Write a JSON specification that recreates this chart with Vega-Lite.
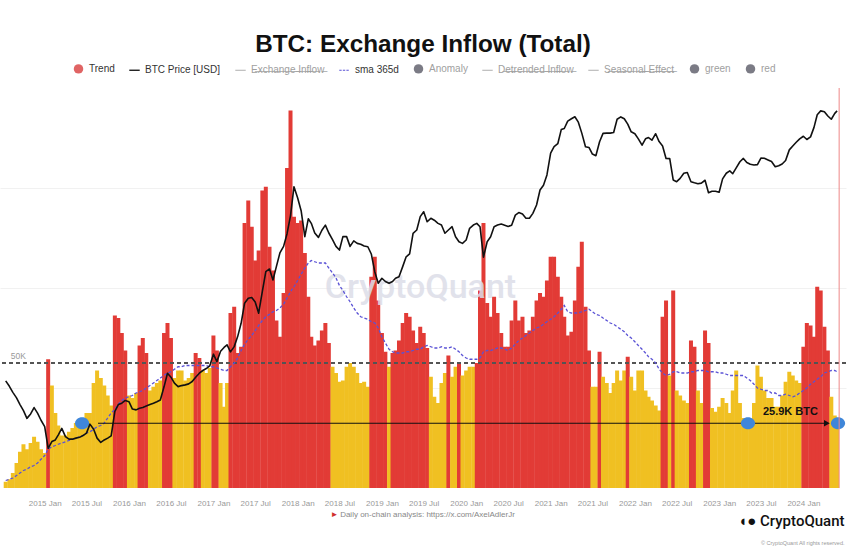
{
  "$schema": "https://vega.github.io/schema/vega-lite/v6.json",
  "width": 846,
  "height": 400,
  "autosize": {"type": "none"},
  "padding": {"left": 0, "top": 88, "right": 4, "bottom": 62},
  "background": "white",
  "config": {"view": {"stroke": null}, "font": "Liberation Sans"},
  "title": {"text": "BTC: Exchange Inflow (Total)", "fontSize": 24.3, "fontWeight": "bold", "color": "#111111", "anchor": "middle", "frame": "group", "offset": 6, "font": "Liberation Sans"},
  "datasets": {
    "main": [
      {"d":"2014-07-16","v":2.5,"c":"y","p":600,"s":3},
      {"d":"2014-08-01","v":3.5,"c":"y","p":545,"s":3.5},
      {"d":"2014-08-16","v":6,"c":"y","p":490,"s":4},
      {"d":"2014-09-01","v":10,"c":"y","p":445,"s":5},
      {"d":"2014-09-16","v":14.5,"c":"y","p":395,"s":6},
      {"d":"2014-10-01","v":17.5,"c":"y","p":355,"s":7},
      {"d":"2014-10-16","v":15.5,"c":"y","p":310,"s":7.5},
      {"d":"2014-11-01","v":18,"c":"y","p":335,"s":8.5},
      {"d":"2014-11-16","v":20.5,"c":"y","p":375,"s":9},
      {"d":"2014-12-01","v":18.5,"c":"y","p":340,"s":10},
      {"d":"2014-12-16","v":15.5,"c":"y","p":300,"s":11.5},
      {"d":"2015-01-01","v":14,"c":"y","p":268,"s":13},
      {"d":"2015-01-16","v":51.5,"c":"r","p":183,"s":15.5},
      {"d":"2015-02-01","v":41,"c":"y","p":206,"s":16.5},
      {"d":"2015-02-16","v":30,"c":"y","p":212,"s":17},
      {"d":"2015-03-01","v":25,"c":"y","p":232,"s":17.5},
      {"d":"2015-03-16","v":21,"c":"y","p":260,"s":18},
      {"d":"2015-04-01","v":21,"c":"y","p":225,"s":18.5},
      {"d":"2015-04-16","v":22.5,"c":"y","p":215,"s":19},
      {"d":"2015-05-01","v":24,"c":"y","p":215,"s":19.5},
      {"d":"2015-05-16","v":26,"c":"y","p":219,"s":20},
      {"d":"2015-06-01","v":27,"c":"y","p":222,"s":20.5},
      {"d":"2015-06-16","v":28,"c":"y","p":229,"s":21},
      {"d":"2015-07-01","v":30,"c":"y","p":239,"s":22},
      {"d":"2015-07-16","v":30,"c":"y","p":280,"s":22.5},
      {"d":"2015-08-01","v":42,"c":"y","p":256,"s":23.5},
      {"d":"2015-08-16","v":47,"c":"y","p":219,"s":24.5},
      {"d":"2015-09-01","v":44,"c":"y","p":203,"s":25},
      {"d":"2015-09-16","v":41,"c":"y","p":212,"s":26},
      {"d":"2015-10-01","v":37,"c":"y","p":219,"s":28},
      {"d":"2015-10-16","v":33,"c":"y","p":228,"s":30},
      {"d":"2015-11-01","v":69,"c":"r","p":350,"s":31.5},
      {"d":"2015-11-16","v":68,"c":"r","p":395,"s":33.5},
      {"d":"2015-12-01","v":62,"c":"r","p":405,"s":35},
      {"d":"2015-12-16","v":55,"c":"r","p":425,"s":36},
      {"d":"2016-01-01","v":37,"c":"y","p":416,"s":36.5},
      {"d":"2016-01-16","v":36,"c":"y","p":365,"s":37},
      {"d":"2016-02-01","v":38,"c":"y","p":360,"s":38},
      {"d":"2016-02-16","v":57,"c":"r","p":370,"s":38.5},
      {"d":"2016-03-01","v":60,"c":"r","p":375,"s":39},
      {"d":"2016-03-16","v":54,"c":"r","p":385,"s":40},
      {"d":"2016-04-01","v":39,"c":"y","p":395,"s":41},
      {"d":"2016-04-16","v":40.5,"c":"y","p":405,"s":42},
      {"d":"2016-05-01","v":42,"c":"y","p":416,"s":43},
      {"d":"2016-05-16","v":43,"c":"y","p":429,"s":44},
      {"d":"2016-06-01","v":62,"c":"r","p":540,"s":45},
      {"d":"2016-06-16","v":66,"c":"r","p":686,"s":46},
      {"d":"2016-07-01","v":60,"c":"r","p":640,"s":46.5},
      {"d":"2016-07-16","v":44,"c":"y","p":576,"s":47.5},
      {"d":"2016-08-01","v":47,"c":"y","p":542,"s":48.5},
      {"d":"2016-08-16","v":47,"c":"y","p":552,"s":48.5},
      {"d":"2016-09-01","v":43,"c":"y","p":559,"s":49},
      {"d":"2016-09-16","v":44,"c":"y","p":569,"s":49},
      {"d":"2016-10-01","v":46,"c":"y","p":593,"s":49},
      {"d":"2016-10-16","v":54,"c":"r","p":640,"s":49},
      {"d":"2016-11-01","v":52,"c":"r","p":686,"s":49},
      {"d":"2016-11-16","v":47,"c":"y","p":720,"s":49},
      {"d":"2016-12-01","v":46,"c":"y","p":745,"s":49},
      {"d":"2016-12-16","v":48,"c":"y","p":780,"s":48.5},
      {"d":"2017-01-01","v":61,"c":"r","p":960,"s":48.5},
      {"d":"2017-01-16","v":55,"c":"r","p":842,"s":48},
      {"d":"2017-02-01","v":42,"c":"y","p":1010,"s":47.5},
      {"d":"2017-02-16","v":32.5,"c":"y","p":1080,"s":47},
      {"d":"2017-03-01","v":42,"c":"y","p":1130,"s":47},
      {"d":"2017-03-16","v":70,"c":"r","p":1000,"s":48.5},
      {"d":"2017-04-01","v":72.5,"c":"r","p":1096,"s":50},
      {"d":"2017-04-16","v":54,"c":"r","p":1308,"s":52},
      {"d":"2017-05-01","v":56.5,"c":"r","p":1652,"s":55},
      {"d":"2017-05-16","v":106,"c":"r","p":2354,"s":57.5},
      {"d":"2017-06-01","v":115,"c":"r","p":2570,"s":59.5},
      {"d":"2017-06-16","v":104.5,"c":"r","p":2600,"s":61},
      {"d":"2017-07-01","v":91,"c":"r","p":2400,"s":63},
      {"d":"2017-07-16","v":95,"c":"r","p":1973,"s":65},
      {"d":"2017-08-01","v":119,"c":"r","p":2900,"s":67},
      {"d":"2017-08-16","v":120.5,"c":"r","p":4100,"s":68.5},
      {"d":"2017-09-01","v":96.5,"c":"r","p":4300,"s":69.5},
      {"d":"2017-09-16","v":87,"c":"r","p":3540,"s":70.5},
      {"d":"2017-10-01","v":67,"c":"r","p":4500,"s":71},
      {"d":"2017-10-16","v":60.5,"c":"r","p":5700,"s":72},
      {"d":"2017-11-01","v":78,"c":"r","p":6400,"s":73.5},
      {"d":"2017-11-16","v":128,"c":"r","p":8000,"s":76},
      {"d":"2017-12-01","v":151,"c":"r","p":11000,"s":78.5},
      {"d":"2017-12-16","v":108.5,"c":"r","p":18300,"s":80.5},
      {"d":"2018-01-01","v":106,"c":"r","p":15000,"s":83},
      {"d":"2018-01-16","v":107,"c":"r","p":12000,"s":85.5},
      {"d":"2018-02-01","v":94,"c":"r","p":7600,"s":88},
      {"d":"2018-02-16","v":76.5,"c":"r","p":10400,"s":90},
      {"d":"2018-03-01","v":60.5,"c":"r","p":9600,"s":91},
      {"d":"2018-03-16","v":57,"c":"r","p":8100,"s":90.5},
      {"d":"2018-04-01","v":59,"c":"r","p":7500,"s":90},
      {"d":"2018-04-16","v":63,"c":"r","p":8500,"s":90},
      {"d":"2018-05-01","v":66,"c":"r","p":9300,"s":90},
      {"d":"2018-05-16","v":58,"c":"r","p":8100,"s":88},
      {"d":"2018-06-01","v":48.5,"c":"y","p":7200,"s":86},
      {"d":"2018-06-16","v":46,"c":"y","p":6400,"s":84},
      {"d":"2018-07-01","v":42.5,"c":"y","p":6000,"s":81},
      {"d":"2018-07-16","v":43,"c":"y","p":7600,"s":79},
      {"d":"2018-08-01","v":48.5,"c":"y","p":7600,"s":76.5},
      {"d":"2018-08-16","v":50,"c":"y","p":6400,"s":74.5},
      {"d":"2018-09-01","v":48.5,"c":"y","p":7050,"s":72},
      {"d":"2018-09-16","v":46,"c":"y","p":6750,"s":70},
      {"d":"2018-10-01","v":42,"c":"y","p":6650,"s":68.5},
      {"d":"2018-10-16","v":42.5,"c":"y","p":6450,"s":68},
      {"d":"2018-11-01","v":40.5,"c":"y","p":6360,"s":67.5},
      {"d":"2018-11-16","v":84.5,"c":"r","p":5600,"s":66.5},
      {"d":"2018-12-01","v":92.5,"c":"r","p":4100,"s":66},
      {"d":"2018-12-16","v":75,"c":"r","p":3350,"s":64},
      {"d":"2019-01-01","v":62,"c":"r","p":3650,"s":60.5},
      {"d":"2019-01-16","v":54.5,"c":"r","p":3450,"s":58},
      {"d":"2019-02-01","v":48.5,"c":"y","p":3350,"s":55.5},
      {"d":"2019-02-16","v":54,"c":"r","p":3450,"s":54.5},
      {"d":"2019-03-01","v":55,"c":"r","p":3650,"s":54},
      {"d":"2019-03-16","v":59,"c":"r","p":3750,"s":54},
      {"d":"2019-04-01","v":66,"c":"r","p":4480,"s":54},
      {"d":"2019-04-16","v":70,"c":"r","p":5330,"s":54.5},
      {"d":"2019-05-01","v":68.5,"c":"r","p":5600,"s":54.5},
      {"d":"2019-05-16","v":63,"c":"r","p":8060,"s":55},
      {"d":"2019-06-01","v":58,"c":"r","p":8540,"s":55.5},
      {"d":"2019-06-16","v":64.5,"c":"r","p":10800,"s":55.5},
      {"d":"2019-07-01","v":62,"c":"r","p":11770,"s":56.5},
      {"d":"2019-07-16","v":56,"c":"r","p":9880,"s":57},
      {"d":"2019-08-01","v":44.5,"c":"y","p":10490,"s":56.5},
      {"d":"2019-08-16","v":36.5,"c":"y","p":10150,"s":56},
      {"d":"2019-09-01","v":34,"c":"y","p":9600,"s":56},
      {"d":"2019-09-16","v":42,"c":"y","p":9320,"s":56.5},
      {"d":"2019-10-01","v":46,"c":"y","p":8060,"s":56},
      {"d":"2019-10-16","v":53,"c":"r","p":8540,"s":56},
      {"d":"2019-11-01","v":44.5,"c":"y","p":9050,"s":56.5},
      {"d":"2019-11-16","v":48.5,"c":"y","p":7590,"s":55.5},
      {"d":"2019-12-01","v":50,"c":"r","p":6950,"s":54.5},
      {"d":"2019-12-16","v":45,"c":"y","p":6750,"s":53},
      {"d":"2020-01-01","v":47,"c":"y","p":7160,"s":52},
      {"d":"2020-01-16","v":48.5,"c":"y","p":8800,"s":51.5},
      {"d":"2020-02-01","v":48.5,"c":"y","p":9320,"s":51.5},
      {"d":"2020-02-16","v":50,"c":"r","p":9600,"s":51.5},
      {"d":"2020-03-01","v":79,"c":"r","p":9050,"s":52},
      {"d":"2020-03-16","v":106,"c":"r","p":5300,"s":54.5},
      {"d":"2020-04-01","v":74,"c":"r","p":6950,"s":55},
      {"d":"2020-04-16","v":68.5,"c":"r","p":7590,"s":55},
      {"d":"2020-05-01","v":76.5,"c":"r","p":9050,"s":55.5},
      {"d":"2020-05-16","v":70,"c":"r","p":9320,"s":56},
      {"d":"2020-06-01","v":62,"c":"r","p":9500,"s":56},
      {"d":"2020-06-16","v":56.5,"c":"r","p":9300,"s":55.5},
      {"d":"2020-07-01","v":56.5,"c":"r","p":9100,"s":55},
      {"d":"2020-07-16","v":67,"c":"r","p":9300,"s":56},
      {"d":"2020-08-01","v":75,"c":"r","p":11100,"s":57.5},
      {"d":"2020-08-16","v":67,"c":"r","p":11600,"s":59},
      {"d":"2020-09-01","v":68.5,"c":"r","p":11300,"s":60},
      {"d":"2020-09-16","v":62,"c":"r","p":10500,"s":61},
      {"d":"2020-10-01","v":63,"c":"r","p":10500,"s":62},
      {"d":"2020-10-16","v":68.5,"c":"r","p":11450,"s":63},
      {"d":"2020-11-01","v":75,"c":"r","p":13250,"s":64},
      {"d":"2020-11-16","v":78,"c":"r","p":17260,"s":64.5},
      {"d":"2020-12-01","v":76.5,"c":"r","p":18800,"s":65.5},
      {"d":"2020-12-16","v":83,"c":"r","p":22500,"s":66.5},
      {"d":"2021-01-01","v":92.5,"c":"r","p":33000,"s":67.5},
      {"d":"2021-01-16","v":92.5,"c":"r","p":37000,"s":68.5},
      {"d":"2021-02-01","v":84.5,"c":"r","p":39000,"s":70},
      {"d":"2021-02-16","v":76.5,"c":"r","p":50000,"s":71.5},
      {"d":"2021-03-01","v":68.5,"c":"r","p":51000,"s":73},
      {"d":"2021-03-16","v":61,"c":"r","p":58000,"s":70.5},
      {"d":"2021-04-01","v":62.5,"c":"r","p":60500,"s":70},
      {"d":"2021-04-16","v":75,"c":"r","p":62700,"s":70},
      {"d":"2021-05-01","v":88.5,"c":"r","p":57000,"s":70},
      {"d":"2021-05-16","v":98.5,"c":"r","p":47000,"s":70.5},
      {"d":"2021-06-01","v":72.5,"c":"r","p":37000,"s":71},
      {"d":"2021-06-16","v":55,"c":"r","p":36500,"s":71.5},
      {"d":"2021-07-01","v":40.5,"c":"y","p":32500,"s":70.5},
      {"d":"2021-07-16","v":40.5,"c":"y","p":31600,"s":69.5},
      {"d":"2021-08-01","v":54.5,"c":"r","p":40400,"s":69},
      {"d":"2021-08-16","v":44.5,"c":"y","p":46800,"s":68},
      {"d":"2021-09-01","v":42,"c":"y","p":47000,"s":67},
      {"d":"2021-09-16","v":38,"c":"y","p":47000,"s":66},
      {"d":"2021-10-01","v":42,"c":"y","p":47500,"s":65.5},
      {"d":"2021-10-16","v":47,"c":"y","p":60000,"s":64.5},
      {"d":"2021-11-01","v":43,"c":"y","p":62500,"s":63.5},
      {"d":"2021-11-16","v":47,"c":"y","p":60500,"s":62.5},
      {"d":"2021-12-01","v":52.5,"c":"r","p":55000,"s":61},
      {"d":"2021-12-16","v":44.5,"c":"y","p":48100,"s":60},
      {"d":"2022-01-01","v":39,"c":"y","p":46500,"s":58.5},
      {"d":"2022-01-16","v":47,"c":"y","p":42500,"s":57},
      {"d":"2022-02-01","v":47,"c":"y","p":38000,"s":55.5},
      {"d":"2022-02-16","v":39,"c":"y","p":42500,"s":54},
      {"d":"2022-03-01","v":36.5,"c":"y","p":43500,"s":52.5},
      {"d":"2022-03-16","v":35,"c":"y","p":41500,"s":51.5},
      {"d":"2022-04-01","v":33,"c":"y","p":46500,"s":50},
      {"d":"2022-04-16","v":31,"c":"y","p":40500,"s":47.5},
      {"d":"2022-05-01","v":68.5,"c":"r","p":37500,"s":46},
      {"d":"2022-05-16","v":75,"c":"r","p":30100,"s":45},
      {"d":"2022-06-01","v":45,"c":"y","p":30000,"s":45.5},
      {"d":"2022-06-16","v":79,"c":"r","p":20600,"s":46.5},
      {"d":"2022-07-01","v":39,"c":"y","p":20000,"s":46.5},
      {"d":"2022-07-16","v":37,"c":"y","p":21200,"s":46},
      {"d":"2022-08-01","v":35,"c":"y","p":23200,"s":46},
      {"d":"2022-08-16","v":34,"c":"y","p":23500,"s":46},
      {"d":"2022-09-01","v":59,"c":"r","p":19950,"s":46.5},
      {"d":"2022-09-16","v":56.5,"c":"r","p":19600,"s":46.5},
      {"d":"2022-10-01","v":39,"c":"y","p":19300,"s":47},
      {"d":"2022-10-16","v":34,"c":"y","p":19500,"s":47},
      {"d":"2022-11-01","v":63,"c":"r","p":20500,"s":47},
      {"d":"2022-11-16","v":58,"c":"r","p":16450,"s":46.5},
      {"d":"2022-12-01","v":32,"c":"y","p":16900,"s":46.5},
      {"d":"2022-12-16","v":30.5,"c":"y","p":16900,"s":46.5},
      {"d":"2023-01-01","v":32.5,"c":"y","p":16600,"s":46},
      {"d":"2023-01-16","v":36,"c":"y","p":21000,"s":46},
      {"d":"2023-02-01","v":34,"c":"y","p":23200,"s":45.5},
      {"d":"2023-02-16","v":30,"c":"y","p":24200,"s":45},
      {"d":"2023-03-01","v":39,"c":"y","p":23000,"s":45},
      {"d":"2023-03-16","v":47,"c":"y","p":25500,"s":45},
      {"d":"2023-04-01","v":34,"c":"y","p":28400,"s":45},
      {"d":"2023-04-16","v":28,"c":"y","p":30100,"s":45},
      {"d":"2023-05-01","v":26,"c":"y","p":28000,"s":44},
      {"d":"2023-05-16","v":26,"c":"y","p":27200,"s":43},
      {"d":"2023-06-01","v":34,"c":"y","p":26800,"s":41.5},
      {"d":"2023-06-16","v":49,"c":"y","p":27000,"s":40},
      {"d":"2023-07-01","v":44.5,"c":"y","p":30300,"s":39.5},
      {"d":"2023-07-16","v":39,"c":"y","p":30200,"s":39},
      {"d":"2023-08-01","v":36,"c":"y","p":29300,"s":39},
      {"d":"2023-08-16","v":36,"c":"y","p":28500,"s":38},
      {"d":"2023-09-01","v":32.5,"c":"y","p":26000,"s":38},
      {"d":"2023-09-16","v":32.5,"c":"y","p":26500,"s":37},
      {"d":"2023-10-01","v":37,"c":"y","p":27300,"s":37},
      {"d":"2023-10-16","v":42.5,"c":"y","p":29000,"s":37.5},
      {"d":"2023-11-01","v":46.5,"c":"y","p":35000,"s":37},
      {"d":"2023-11-16","v":45,"c":"y","p":37500,"s":36.5},
      {"d":"2023-12-01","v":43,"c":"y","p":40000,"s":37},
      {"d":"2023-12-16","v":42,"c":"y","p":42500,"s":38},
      {"d":"2024-01-01","v":56.5,"c":"r","p":44500,"s":39},
      {"d":"2024-01-16","v":66,"c":"r","p":42000,"s":40},
      {"d":"2024-02-01","v":65,"c":"r","p":44000,"s":41.5},
      {"d":"2024-02-16","v":60.5,"c":"r","p":52000,"s":42.5},
      {"d":"2024-03-01","v":80.5,"c":"r","p":65000,"s":43.5},
      {"d":"2024-03-16","v":79,"c":"r","p":69500,"s":44.5},
      {"d":"2024-04-01","v":64.5,"c":"r","p":68500,"s":46},
      {"d":"2024-04-16","v":55,"c":"r","p":63500,"s":46.5},
      {"d":"2024-05-01","v":36.5,"c":"y","p":60000,"s":47},
      {"d":"2024-05-16","v":29,"c":"y","p":66500,"s":47},
      {"d":"2024-05-26","v":27,"c":"y","p":69500,"s":46.5}
    ]
  },
  "layer": [
    {
      "data": {"name": "main"},
      "layer": [
        {
          "mark": {"type": "bar", "width": 4},
          "encoding": {
            "x": {
              "field": "d", "type": "temporal",
              "scale": {"domain": [{"year": 2014, "month": 7, "date": 13, "utc": true}, {"year": 2024, "month": 6, "date": 12, "utc": true}]},
              "axis": {
                "format": "%Y %b",
                "values": [
                  {"year": 2015, "month": 1, "date": 1}, {"year": 2015, "month": 7, "date": 1},
                  {"year": 2016, "month": 1, "date": 1}, {"year": 2016, "month": 7, "date": 1},
                  {"year": 2017, "month": 1, "date": 1}, {"year": 2017, "month": 7, "date": 1},
                  {"year": 2018, "month": 1, "date": 1}, {"year": 2018, "month": 7, "date": 1},
                  {"year": 2019, "month": 1, "date": 1}, {"year": 2019, "month": 7, "date": 1},
                  {"year": 2020, "month": 1, "date": 1}, {"year": 2020, "month": 7, "date": 1},
                  {"year": 2021, "month": 1, "date": 1}, {"year": 2021, "month": 7, "date": 1},
                  {"year": 2022, "month": 1, "date": 1}, {"year": 2022, "month": 7, "date": 1},
                  {"year": 2023, "month": 1, "date": 1}, {"year": 2023, "month": 7, "date": 1},
                  {"year": 2024, "month": 1, "date": 1}
                ],
                "labelFontSize": 8, "labelColor": "#999999", "labelPadding": 11, "labelOverlap": false, "labelFlush": false,
                "ticks": false, "domain": false, "grid": false,
                "title": "Daily on-chain analysis: https://x.com/AxelAdlerJr",
                "titleFontSize": 8, "titleFontWeight": "normal", "titleColor": "#888888",
                "titleX": 427, "titleY": 26, "titleAlign": "center", "titleBaseline": "middle"
              }
            },
            "y": {
              "field": "v", "type": "quantitative",
              "scale": {"domain": [0, 160], "nice": false},
              "axis": {
                "orient": "left", "labels": false, "ticks": false, "domain": false,
                "grid": true, "gridColor": "#f1f1f1", "values": [40, 80, 120],
                "title": "© CryptoQuant All rights reserved.", "titleAngle": 0,
                "titleX": 844, "titleY": 454, "titleAlign": "right", "titleBaseline": "middle",
                "titleFontSize": 5.5, "titleFontWeight": "normal", "titleColor": "#999999"
              }
            },
            "color": {"field": "c", "type": "nominal", "scale": {"domain": ["r", "y"], "range": ["#e23b36", "#f0c022"]}, "legend": null}
          }
        },
        {
          "data": {"values": [{"d": "2019-06-17", "y": 80, "t": "CryptoQuant"}]},
          "mark": {"type": "text", "fontSize": 34, "color": "#dcdde8", "opacity": 0.85, "align": "center", "baseline": "middle", "font": "Roboto", "fontWeight": 500},
          "encoding": {
            "x": {"field": "d", "type": "temporal"},
            "y": {"field": "y", "type": "quantitative"},
            "text": {"field": "t"}
          }
        },
        {
          "mark": {"type": "rule", "color": "#555555", "strokeDash": [4, 3], "strokeWidth": 1},
          "encoding": {"y": {"datum": 50}}
        },
        {
          "data": {"values": [{"d": "2014-07-16", "y": 50, "t": "50K"}]},
          "mark": {"type": "text", "align": "left", "dx": 5, "dy": -7, "fontSize": 8.5, "color": "#999999"},
          "encoding": {
            "x": {"field": "d", "type": "temporal"},
            "y": {"field": "y", "type": "quantitative"},
            "text": {"field": "t"}
          }
        },
        {
          "mark": {"type": "line", "color": "#5a52d5", "strokeWidth": 1.3, "strokeDash": [3, 2]},
          "encoding": {
            "x": {"field": "d", "type": "temporal"},
            "y": {"field": "s", "type": "quantitative"}
          }
        },
        {
          "data": {"values": [{"d": "2015-08-20", "d2": "2024-04-14", "y": 25.9}]},
          "mark": {"type": "rule", "color": "#111111", "strokeWidth": 1.2},
          "encoding": {
            "x": {"field": "d", "type": "temporal"},
            "x2": {"field": "d2"},
            "y": {"field": "y", "type": "quantitative"}
          }
        },
        {
          "data": {"values": [{"d": "2024-04-12", "y": 25.9}]},
          "mark": {"type": "point", "shape": "triangle-right", "filled": true, "color": "#111111", "size": 45, "opacity": 1},
          "encoding": {
            "x": {"field": "d", "type": "temporal"},
            "y": {"field": "y", "type": "quantitative"}
          }
        },
        {
          "data": {"values": [{"d": "2023-11-06", "y": 25.9, "t": "25.9K BTC"}]},
          "mark": {"type": "text", "fontSize": 11, "fontWeight": "bold", "dy": -11, "color": "#111111"},
          "encoding": {
            "x": {"field": "d", "type": "temporal"},
            "y": {"field": "y", "type": "quantitative"},
            "text": {"field": "t"}
          }
        },
        {
          "data": {"values": [{"d": "2015-06-12", "y": 25.9}, {"d": "2023-05-06", "y": 25.9}, {"d": "2024-05-30", "y": 25.9}]},
          "mark": {"type": "point", "filled": true, "color": "#3f86d9", "size": 200, "opacity": 1, "shape": "M-1,0A1,0.85,0,1,1,1,0A1,0.85,0,1,1,-1,0Z"},
          "encoding": {
            "x": {"field": "d", "type": "temporal"},
            "y": {"field": "y", "type": "quantitative"}
          }
        },
        {
          "data": {"values": [{"d": "2024-06-04"}]},
          "mark": {"type": "rule", "color": "#ee8888", "strokeWidth": 1},
          "encoding": {"x": {"field": "d", "type": "temporal"}}
        }
      ]
    },
    {
      "data": {"name": "main"},
      "mark": {"type": "line", "color": "#111111", "strokeWidth": 1.6, "strokeJoin": "round"},
      "encoding": {
        "x": {
          "field": "d", "type": "temporal",
          "axis": {
            "orient": "bottom", "labels": false, "ticks": false, "domain": false, "grid": false,
            "title": "►", "titleColor": "#d0312d", "titleFontSize": 8,
            "titleX": 334, "titleY": 26, "titleAlign": "center", "titleBaseline": "middle"
          }
        },
        "y": {
          "field": "p", "type": "quantitative",
          "scale": {"type": "log", "domain": [91, 104000], "nice": false},
          "axis": {
            "orient": "right", "labels": false, "ticks": false, "domain": false, "grid": false,
            "title": "◖● CryptoQuant", "titleAngle": 0, "titleX": -2, "titleY": 432,
            "titleAlign": "right", "titleBaseline": "middle", "titleFontSize": 15,
            "titleFontWeight": 500, "titleFont": "Roboto", "titleColor": "#111111", "titleLimit": 400
          }
        }
      }
    },
    {
      "data": {"values": [
        {"s": "Trend", "d": "2005-01-01"}, {"s": "BTC Price [USD]", "d": "2005-01-01"}, {"s": "Exchange Inflow", "d": "2005-01-01"},
        {"s": "sma 365d", "d": "2005-01-01"}, {"s": "Anomaly", "d": "2005-01-01"}, {"s": "Detrended Inflow", "d": "2005-01-01"},
        {"s": "Seasonal Effect", "d": "2005-01-01"}, {"s": "green", "d": "2005-01-01"}, {"s": "red", "d": "2005-01-01"}
      ]},
      "mark": {"type": "point", "filled": true, "opacity": 1, "clip": true},
      "encoding": {
        "x": {"field": "d", "type": "temporal", "axis": null},
        "color": {
          "field": "s", "type": "nominal",
          "scale": {
            "domain": ["Trend", "BTC Price [USD]", "Exchange Inflow", "sma 365d", "Anomaly", "Detrended Inflow", "Seasonal Effect", "green", "red"],
            "range": ["#e06464", "#111111", "#aaaaaa", "#5a52d5", "#7b7b85", "#aaaaaa", "#aaaaaa", "#7b7b85", "#7b7b85"]
          },
          "legend": {
            "orient": "none", "legendX": 73, "legendY": -25, "direction": "horizontal", "columns": 9,
            "title": null, "labelFontSize": 10, "labelFont": "Liberation Sans", "symbolSize": 90,
            "columnPadding": 11, "labelOffset": 5, "symbolOpacity": 1,
            "labelExpr": "indexof(['Exchange Inflow','Detrended Inflow','Seasonal Effect'], datum.label) >= 0 ? replace(datum.label, regexp('(.)', 'g'), '$1\u0336') : datum.label",
            "labelColor": {"expr": "indexof(['Trend','BTC Price [USD]','sma 365d'], datum.value) >= 0 ? '#333333' : '#a0a0a0'"}
          }
        },
        "shape": {
          "field": "s", "type": "nominal",
          "scale": {
            "domain": ["Trend", "BTC Price [USD]", "Exchange Inflow", "sma 365d", "Anomaly", "Detrended Inflow", "Seasonal Effect", "green", "red"],
            "range": [
              "circle",
              "M-1.1,-0.14H1.1V0.14H-1.1Z",
              "M-1.1,-0.1H1.1V0.1H-1.1Z",
              "M-1.1,-0.12H-0.6V0.12H-1.1Z M-0.35,-0.12H0.15V0.12H-0.35Z M0.4,-0.12H0.9V0.12H0.4Z",
              "circle",
              "M-1.1,-0.1H1.1V0.1H-1.1Z",
              "M-1.1,-0.1H1.1V0.1H-1.1Z",
              "circle",
              "circle"
            ]
          }
        }
      }
    }
  ],
  "resolve": {"scale": {"y": "independent", "color": "independent", "shape": "independent"}, "axis": {"x": "independent"}}
}
